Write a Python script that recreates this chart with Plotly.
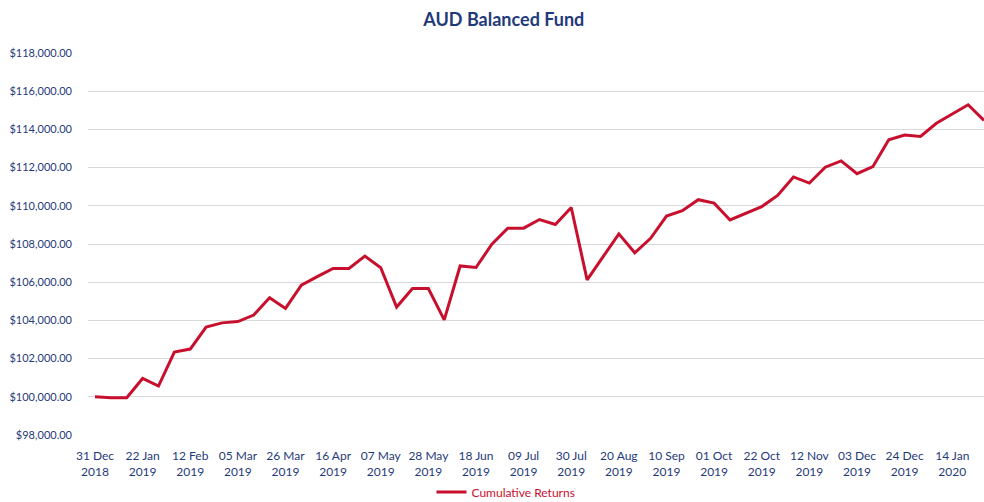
import plotly.graph_objects as go

# Dates (categories) - weekly observations
dates = [
    "2018-12-31",
    "2019-01-08", "2019-01-15", "2019-01-22", "2019-01-29",
    "2019-02-05", "2019-02-12", "2019-02-19", "2019-02-26",
    "2019-03-05", "2019-03-12", "2019-03-19", "2019-03-26",
    "2019-04-02", "2019-04-09", "2019-04-16", "2019-04-23", "2019-04-30",
    "2019-05-07", "2019-05-14", "2019-05-21", "2019-05-28",
    "2019-06-04", "2019-06-11", "2019-06-18", "2019-06-25",
    "2019-07-02", "2019-07-09", "2019-07-16", "2019-07-23", "2019-07-30",
    "2019-08-06", "2019-08-13", "2019-08-20", "2019-08-27",
    "2019-09-03", "2019-09-10", "2019-09-17", "2019-09-24",
    "2019-10-01", "2019-10-08", "2019-10-15", "2019-10-22", "2019-10-29",
    "2019-11-05", "2019-11-12", "2019-11-19", "2019-11-26",
    "2019-12-03", "2019-12-10", "2019-12-17", "2019-12-24", "2019-12-31",
    "2020-01-07", "2020-01-14", "2020-01-21", "2020-01-28",
]

cumulative_returns = [
    100000, 99950, 99950, 100960, 100560, 102340, 102500, 103650, 103870,
    103940, 104280, 105190, 104630, 105850, 106290, 106720, 106720, 107370,
    106760, 104700, 105670, 105670, 104030, 106850, 106770, 107990, 108830,
    108830, 109280, 109020, 109910, 106120, 107330, 108530, 107540, 108300,
    109460, 109740, 110320, 110140, 109260, 109600, 109960, 110540, 111510,
    111190, 112020, 112350, 111680, 112050, 113460, 113700, 113630, 114320,
    114790, 115290, 114470,
]

tick_dates = dates[::3]
tick_labels = [
    "31 Dec<br>2018", "22 Jan<br>2019", "12 Feb<br>2019", "05 Mar<br>2019",
    "26 Mar<br>2019", "16 Apr<br>2019", "07 May<br>2019", "28 May<br>2019",
    "18 Jun<br>2019", "09 Jul<br>2019", "30 Jul<br>2019", "20 Aug<br>2019",
    "10 Sep<br>2019", "01 Oct<br>2019", "22 Oct<br>2019", "12 Nov<br>2019",
    "03 Dec<br>2019", "24 Dec<br>2019", "14 Jan<br>2020",
]

NAVY = "#1F3A7A"
RED = "#C8102E"
FONT = "Lato, Open Sans, sans-serif"

fig = go.Figure()
fig.add_trace(go.Scatter(
    x=dates, y=cumulative_returns, mode="lines",
    name="Cumulative Returns",
    line=dict(color=RED, width=3),
))

fig.update_layout(
    width=984, height=502,
    margin=dict(l=88, r=0, t=53, b=67),
    paper_bgcolor="white", plot_bgcolor="white",
    font=dict(family=FONT, color=NAVY, size=12),
    title=dict(text="<b>AUD Balanced Fund</b>", x=0.512, xref="container",
               xanchor="center", y=0.96, yanchor="middle",
               font=dict(size=18, color=NAVY, family=FONT)),
    showlegend=True,
    legend=dict(orientation="h", x=0.4665, xanchor="center",
                yref="container", y=0.02, yanchor="middle",
                bgcolor="rgba(0,0,0,0)",
                font=dict(color=RED, size=12, family=FONT),
                itemwidth=30),
    xaxis=dict(type="category", range=[-0.44, 56], automargin=False,
               tickmode="array", tickvals=tick_dates, ticktext=tick_labels,
               showgrid=False, showline=False, ticks="", zeroline=False,
               ticklabelstandoff=12,
               tickfont=dict(size=12, color=NAVY)),
    yaxis=dict(range=[98000, 118000], dtick=2000, tickformat="$,.2f",
               automargin=False,
               showgrid=True, gridcolor="#D9D9D9", gridwidth=1,
               zeroline=False, showline=False, ticks="",
               ticklabelstandoff=15,
               tickfont=dict(size=11, color=NAVY)),
)

fig.write_html(
    "out.html",
    config={"displayModeBar": False},
    post_script="document.body.style.margin='0px';document.body.style.overflow='hidden';",
)
